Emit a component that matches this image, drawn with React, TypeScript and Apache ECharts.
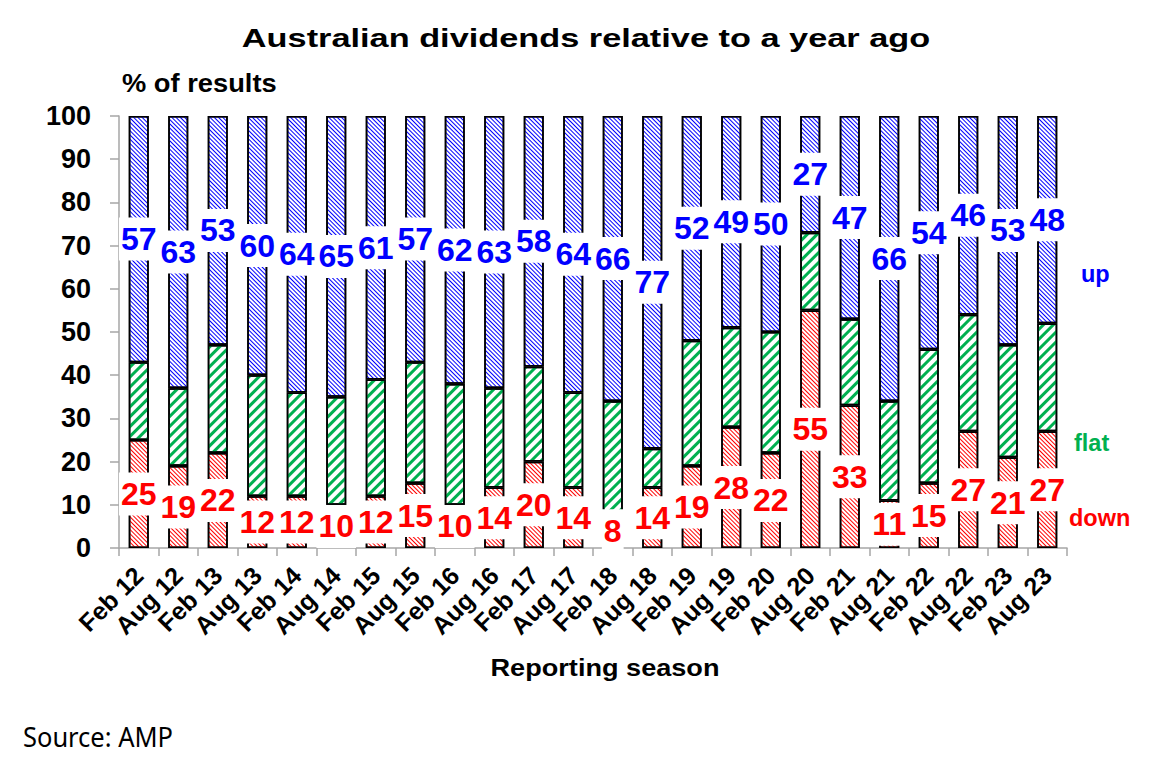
import React, { useEffect, useRef } from 'react';
import * as echarts from 'echarts';

const categories = [
  'Feb 12', 'Aug 12', 'Feb 13', 'Aug 13', 'Feb 14', 'Aug 14', 'Feb 15', 'Aug 15',
  'Feb 16', 'Aug 16', 'Feb 17', 'Aug 17', 'Feb 18', 'Aug 18', 'Feb 19', 'Aug 19',
  'Feb 20', 'Aug 20', 'Feb 21', 'Aug 21', 'Feb 22', 'Aug 22', 'Feb 23', 'Aug 23',
];
const downValues = [25, 19, 22, 12, 12, 10, 12, 15, 10, 14, 20, 14, 8, 14, 19, 28, 22, 55, 33, 11, 15, 27, 21, 27];
const flatValues = [18, 18, 25, 28, 24, 25, 27, 28, 28, 23, 22, 22, 26, 9, 29, 23, 28, 18, 20, 23, 31, 27, 26, 25];
const upValues = [57, 63, 53, 60, 64, 65, 61, 57, 62, 63, 58, 64, 66, 77, 52, 49, 50, 27, 47, 66, 54, 46, 53, 48];

const TITLE = 'Australian dividends relative to a year ago';
const Y_NAME = '% of results';
const X_NAME = 'Reporting season';
const SOURCE = 'Source: AMP';

const FONT = '"Liberation Sans", Arial, Helvetica, sans-serif';
const RED = '#ff0000';
const GREEN = '#00b050';
const BLUE = '#0000ff';
const AXIS_GREY = '#a6a6a6';

function txt(text: string, x: number, y: number, size: number, color: string, opts: any = {}) {
  const align = opts.align || 'left';
  return {
    type: 'text',
    x,
    y,
    scaleX: opts.scaleX || 1,
    z: 100,
    style: {
      text,
      fontSize: size,
      fontFamily: opts.family || FONT,
      fontWeight: opts.weight || 'bold',
      fill: color,
      align,
      textAlign: align,
      verticalAlign: 'middle',
      textVerticalAlign: 'middle',
    },
  };
}

export default function App() {
  const ref = useRef<HTMLDivElement>(null);

  useEffect(() => {
    const chart = echarts.init(ref.current as HTMLDivElement, null, { renderer: 'svg' });
    const labelBase = {
      show: true,
      position: 'inside',
      fontFamily: FONT,
      fontWeight: 'bold',
      fontSize: 32,
      lineHeight: 31,
      backgroundColor: '#ffffff',
      padding: [6, 2],
    };
    const border = { borderColor: '#000000', borderWidth: 1.6 };
    const axisLineStyle = { color: AXIS_GREY, width: 1.5 };

    chart.setOption({
      animation: false,
      backgroundColor: '#ffffff',
      grid: { left: 119, right: 87, top: 116, bottom: 227 },
      xAxis: {
        type: 'category',
        data: categories,
        axisLine: { show: true, lineStyle: axisLineStyle },
        axisTick: { show: true, length: 8, lineStyle: axisLineStyle },
        axisLabel: {
          rotate: 45,
          interval: 0,
          fontFamily: FONT,
          fontWeight: 'bold',
          fontSize: 25,
          color: '#000000',
          margin: 23,
        },
      },
      yAxis: {
        type: 'value',
        min: 0,
        max: 100,
        interval: 10,
        splitLine: { show: false },
        axisLine: { show: true, lineStyle: axisLineStyle },
        axisTick: { show: true, length: 9, lineStyle: axisLineStyle },
        axisLabel: {
          fontFamily: FONT,
          fontWeight: 'bold',
          fontSize: 27,
          color: '#000000',
          margin: 28,
        },
      },
      series: [
        {
          name: 'down',
          type: 'bar',
          stack: 'all',
          barWidth: 20,
          data: downValues,
          itemStyle: {
            color: '#ffffff',
            ...border,
            decal: {
              symbol: 'rect',
              symbolSize: 1,
              color: RED,
              dashArrayX: [1, 0],
              dashArrayY: [1, 2],
              rotation: Math.PI / 4,
            },
          },
          label: { ...labelBase, color: RED },
        },
        {
          name: 'flat',
          type: 'bar',
          stack: 'all',
          barWidth: 20,
          data: flatValues,
          itemStyle: {
            color: '#ffffff',
            ...border,
            decal: {
              symbol: 'rect',
              symbolSize: 1,
              color: GREEN,
              dashArrayX: [1, 0],
              dashArrayY: [2.5, 3.5],
              rotation: -Math.PI / 4,
            },
          },
          label: { show: false },
        },
        {
          name: 'up',
          type: 'bar',
          stack: 'all',
          barWidth: 20,
          data: upValues,
          itemStyle: {
            color: '#ffffff',
            ...border,
            decal: {
              symbol: 'rect',
              symbolSize: 1,
              color: BLUE,
              dashArrayX: [1, 0],
              dashArrayY: [1, 1.8],
              rotation: Math.PI / 4,
            },
          },
          label: { ...labelBase, color: BLUE },
        },
      ],
      graphic: [
        txt(TITLE, 586, 38, 26, '#000000', { align: 'center', scaleX: 1.32 }),
        txt(Y_NAME, 122, 83, 26, '#000000', { scaleX: 1.05 }),
        txt(X_NAME, 605, 668, 24, '#000000', { align: 'center', scaleX: 1.13 }),
        txt(SOURCE, 23, 736, 28, '#000000', { weight: 'normal', family: '"Noto Sans", "Open Sans", sans-serif', scaleX: 0.91 }),
        txt('up', 1081, 274, 23.5, BLUE),
        txt('flat', 1074, 443, 23.5, GREEN),
        txt('down', 1069, 518, 23.5, RED),
      ],
    });

    return () => {
      chart.dispose();
    };
  }, []);

  return (
    <div
      ref={ref}
      style={{ position: 'absolute', left: 0, top: 0, width: 1154, height: 775 }}
    />
  );
}
